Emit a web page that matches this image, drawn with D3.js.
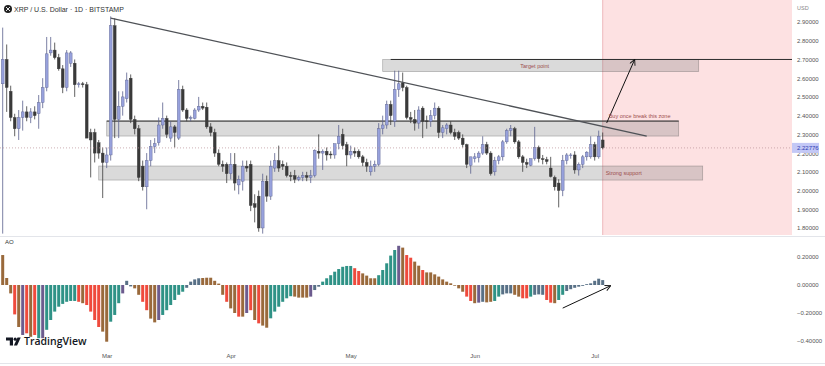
<!DOCTYPE html>
<html>
<head>
<meta charset="utf-8">
<script src="https://cdn.jsdelivr.net/npm/d3@7"></script>
<style>
  body { margin: 0; background: #fff; }
  svg { display: block; font-family: "Liberation Sans", Arial, sans-serif; }
</style>
</head>
<body>
<div id="chart"></div>
<script>
/**
 * DATA  (XRP / USD daily, Bitstamp)
 * */
const days = d3.utcDay.range(new Date(Date.UTC(2025, 1, 3)), new Date(Date.UTC(2025, 6, 4)));

const open = [
  2.57,2.70,2.53,2.39,2.33,2.39,2.42,2.39,2.42,2.41,
  2.47,2.55,2.735,2.75,2.71,2.65,2.55,2.68,2.68,2.565,
  2.57,2.565,2.31,2.31,2.255,2.20,2.15,2.19,2.88,2.38,
  2.45,2.49,2.60,2.38,2.33,2.13,2.02,2.16,2.235,2.255,
  2.35,2.385,2.28,2.34,2.28,2.54,2.43,2.385,2.385,2.43,
  2.45,2.445,2.34,2.31,2.20,2.14,2.14,2.09,2.14,2.03,
  2.05,2.13,2.14,1.93,1.97,1.80,2.05,1.97,2.12,2.16,
  2.14,2.13,2.08,2.08,2.06,2.07,2.08,2.07,2.08,2.21,
  2.20,2.21,2.195,2.19,2.25,2.30,2.245,2.19,2.21,2.21,
  2.18,2.15,2.10,2.13,2.14,2.33,2.35,2.46,2.37,2.54,
  2.575,2.55,2.39,2.38,2.36,2.44,2.372,2.37,2.40,2.44,
  2.31,2.33,2.35,2.31,2.31,2.28,2.245,2.135,2.17,2.175,
  2.20,2.245,2.20,2.10,2.16,2.18,2.26,2.32,2.33,2.26,
  2.18,2.15,2.135,2.17,2.23,2.17,2.165,2.12,2.07,2.04,
  2.00,2.16,2.188,2.19,2.11,2.14,2.18,2.18,2.245,2.18,
  2.27
];
const high = [
  2.87,2.78,2.56,2.41,2.43,2.48,2.45,2.44,2.45,2.51,
  2.60,2.82,2.82,2.79,2.73,2.67,2.75,2.745,2.70,2.58,
  2.58,2.58,2.33,2.33,2.27,2.23,2.23,2.93,2.92,2.53,
  2.53,2.63,2.62,2.40,2.35,2.16,2.20,2.27,2.28,2.39,
  2.47,2.40,2.37,2.35,2.59,2.56,2.44,2.40,2.44,2.50,
  2.47,2.47,2.36,2.33,2.22,2.16,2.15,2.20,2.20,2.08,
  2.16,2.16,2.16,1.98,2.00,2.09,2.08,2.16,2.20,2.24,
  2.16,2.15,2.10,2.11,2.08,2.10,2.10,2.11,2.22,2.30,
  2.22,2.23,2.21,2.25,2.35,2.33,2.26,2.24,2.23,2.22,
  2.19,2.17,2.16,2.16,2.36,2.40,2.48,2.48,2.64,2.64,
  2.63,2.56,2.42,2.43,2.45,2.45,2.40,2.43,2.47,2.45,
  2.35,2.36,2.37,2.33,2.32,2.30,2.25,2.18,2.20,2.21,
  2.29,2.26,2.21,2.18,2.19,2.27,2.33,2.35,2.34,2.27,
  2.19,2.17,2.17,2.34,2.24,2.19,2.18,2.18,2.08,2.06,
  2.19,2.20,2.20,2.21,2.15,2.19,2.21,2.29,2.26,2.32,
  2.31
];
const low = [
  1.77,2.42,2.37,2.29,2.27,2.32,2.37,2.36,2.38,2.33,
  2.44,2.53,2.72,2.70,2.64,2.52,2.53,2.66,2.50,2.55,
  2.55,2.28,2.07,2.15,2.17,1.96,2.12,2.16,2.28,2.28,
  2.40,2.47,2.36,2.30,2.05,2.00,1.90,2.13,2.20,2.24,
  2.33,2.28,2.26,2.23,2.27,2.42,2.37,2.37,2.38,2.42,
  2.43,2.33,2.29,2.18,2.13,2.10,2.04,2.06,2.00,1.98,
  2.00,2.10,1.89,1.83,1.78,1.77,1.94,1.95,2.10,2.10,
  2.11,2.07,2.05,2.04,2.05,2.05,2.05,2.04,2.07,2.17,
  2.11,2.16,2.17,2.17,2.22,2.22,2.13,2.17,2.18,2.17,
  2.13,2.10,2.08,2.10,2.13,2.30,2.33,2.35,2.34,2.50,
  2.53,2.38,2.36,2.32,2.33,2.28,2.33,2.34,2.38,2.28,
  2.28,2.30,2.30,2.27,2.27,2.23,2.12,2.09,2.15,2.15,
  2.19,2.19,2.08,2.08,2.14,2.16,2.25,2.29,2.25,2.17,
  2.10,2.12,2.13,2.16,2.15,2.14,2.14,2.07,2.00,1.91,
  1.97,2.14,2.17,2.09,2.08,2.12,2.16,2.17,2.16,2.17,
  2.22
];
const close = [
  2.70,2.55,2.39,2.33,2.39,2.42,2.39,2.42,2.40,2.47,
  2.55,2.73,2.75,2.71,2.65,2.55,2.735,2.735,2.565,2.57,
  2.565,2.28,2.27,2.20,2.20,2.15,2.19,2.88,2.38,2.45,
  2.50,2.59,2.38,2.33,2.07,2.02,2.16,2.235,2.25,2.35,
  2.385,2.30,2.34,2.31,2.54,2.43,2.385,2.39,2.43,2.45,
  2.44,2.34,2.31,2.20,2.14,2.13,2.09,2.14,2.04,2.06,
  2.13,2.12,1.92,1.91,1.80,2.05,1.97,2.13,2.16,2.12,
  2.13,2.08,2.075,2.06,2.07,2.08,2.07,2.08,2.215,2.20,
  2.21,2.19,2.19,2.25,2.29,2.24,2.19,2.21,2.20,2.18,
  2.15,2.13,2.13,2.14,2.33,2.35,2.46,2.40,2.54,2.57,
  2.55,2.39,2.38,2.36,2.43,2.37,2.368,2.40,2.44,2.31,
  2.335,2.35,2.31,2.29,2.28,2.245,2.14,2.18,2.18,2.20,
  2.245,2.20,2.09,2.16,2.18,2.26,2.32,2.33,2.26,2.18,
  2.15,2.14,2.17,2.23,2.17,2.165,2.155,2.075,2.02,2.00,
  2.16,2.19,2.19,2.11,2.14,2.18,2.205,2.245,2.18,2.29,
  2.228
];

// Awesome Oscillator histogram
const ao = [
  .214,.05,-.06,-.21,-.30,-.357,-.345,-.37,-.357,-.38,
  -.38,-.32,-.25,-.19,-.155,-.135,-.12,-.114,-.114,-.12,
  -.13,-.143,-.19,-.25,-.30,-.333,-.405,-.262,-.214,-.13,
  -.06,.03,-.01,-.024,-.07,-.12,-.18,-.24,-.267,-.25,
  -.214,-.18,-.143,-.107,-.07,-.048,-.02,.024,.04,.048,
  .05,.052,.052,.03,.01,-.07,-.12,-.167,-.2,-.226,
  -.226,-.2,-.18,-.25,-.274,-.29,-.305,-.238,-.19,-.155,
  -.12,-.095,-.08,-.083,-.09,-.09,-.09,-.083,-.036,-.012,
  .024,.048,.07,.095,.114,.13,.136,.136,.12,.1,
  .083,.067,.048,.048,.07,.107,.155,.21,.25,.28,
  .267,.214,.195,.167,.138,.107,.09,.09,.076,.06,
  .04,.024,.012,-.005,-.024,-.048,-.083,-.114,-.13,-.126,
  -.12,-.124,-.12,-.114,-.083,-.067,-.06,-.06,-.07,-.083,
  -.095,-.095,-.083,-.07,-.067,-.07,-.107,-.126,-.13,-.107,
  -.07,-.043,-.03,-.02,-.012,-.006,.006,.012,.03,.045,
  .035
];
// bar shade as seen in the picture: t teal, r red, b brown, p purple, g slate
const aoShade = (
  "bbbrbprbrt" + "pttttttttr" + "brrrrbbttt" + "pggbbrrbbp" +
  "ttttttgggg" + "bbbbbbrbbr" + "bprbrbbttt" + "tttbbbbpgg" +
  "ttttttttrr" + "bbbbtttttp" + "brrbbrbbbb" + "bbbbbbrrbp" +
  "gbbttgggbb" + "rrtgggrrbt" + "tggggggggg" + "g"
).split("");

// price scales and ticks
const priceTicks = [2.9, 2.8, 2.7, 2.6, 2.5, 2.4, 2.3, 2.2, 2.1, 2.0, 1.9, 1.8];
const aoTicks = [0.2, 0, -0.2, -0.4];
const monthTicks = [
  new Date(Date.UTC(2025, 2, 1)), new Date(Date.UTC(2025, 3, 1)),
  new Date(Date.UTC(2025, 4, 1)), new Date(Date.UTC(2025, 5, 1)),
  new Date(Date.UTC(2025, 6, 1))
];
const lastPrice = 2.22776;

// drawing annotations
const zoneLabels = ["", "Strong support", "Target point"];
const zoneStart = ["2025-03-01", "2025-02-27", "2025-05-09"];
const zoneEnd = ["2025-07-22", "2025-07-28", "2025-07-27"];
const zoneTop = [2.371, 2.131, 2.70];
const zoneBottom = [2.291, 2.056, 2.635];
const trendDates = ["2025-03-02", "2025-07-14"];
const trendPrices = [2.921, 2.291];
const arrowDates = ["2025-07-04", "2025-07-11"];
const arrowPrices = [2.361, 2.70];
const aoArrowDates = ["2025-06-23", "2025-07-05"];
const aoArrowValues = [-0.165, -0.005];
const sellZoneStart = "2025-07-03";

const day = (s) => new Date(s + "T00:00:00Z");

let width = 825,
  height = 366,
  plotRight = 792;

// SCALES
const xScale = d3
  .scaleUtc()
  .domain([new Date(Date.UTC(2025, 1, 3)), new Date(Date.UTC(2025, 6, 1))])
  .range([2.7, 594.7]);

const yScale = d3.scaleLinear().domain([1.8, 2.9]).range([228, 22]);
const aoScale = d3.scaleLinear().domain([-0.4, 0.2]).range([341, 257]);

const svg = d3
  .select("#chart")
  .append("svg")
  .attr("width", width)
  .attr("height", height);

svg.append("rect").attr("width", width).attr("height", height).attr("fill", "#fff");

const defs = svg.append("defs");
defs.append("clipPath").attr("id", "clipPrice")
  .append("rect").attr("x", 0).attr("y", 0).attr("width", plotRight).attr("height", 235);
defs.append("clipPath").attr("id", "clipAO")
  .append("rect").attr("x", 0).attr("y", 237).attr("width", plotRight).attr("height", 112);
defs.append("marker")
  .attr("id", "head")
  .attr("viewBox", "0 0 10 10")
  .attr("refX", 9).attr("refY", 5)
  .attr("markerWidth", 7).attr("markerHeight", 7)
  .attr("orient", "auto")
  .append("path")
  .attr("d", "M1,1 L9,5 L1,9")
  .attr("fill", "none")
  .attr("stroke", "#111")
  .attr("stroke-width", 1.3);

const pricePane = svg.append("g").attr("clip-path", "url(#clipPrice)");
const aoPane = svg.append("g").attr("clip-path", "url(#clipAO)");

// pink zone on the right
pricePane
  .append("rect")
  .attr("x", xScale(day(sellZoneStart)))
  .attr("y", 0)
  .attr("width", plotRight - xScale(day(sellZoneStart)))
  .attr("height", 237)
  .attr("fill", "#fde1e2");
pricePane
  .append("line")
  .attr("x1", xScale(day(sellZoneStart)))
  .attr("x2", xScale(day(sellZoneStart)))
  .attr("y1", 0).attr("y2", 235)
  .attr("stroke", "#e9a9ad")
  .attr("stroke-width", 0.8);

// boxes
const zones = zoneStart.map((s, i) => ({
  x0: day(s), x1: day(zoneEnd[i]), top: zoneTop[i], bottom: zoneBottom[i], label: zoneLabels[i]
}));

pricePane
  .selectAll(".zone")
  .data(zones)
  .join("rect")
  .attr("class", "zone")
  .attr("x", (d) => xScale(d.x0))
  .attr("y", (d) => yScale(d.top))
  .attr("width", (d) => xScale(d.x1) - xScale(d.x0))
  .attr("height", (d) => yScale(d.bottom) - yScale(d.top))
  .attr("fill", "rgba(120,120,120,0.27)")
  .attr("stroke", "rgba(90,90,90,0.45)")
  .attr("stroke-width", 0.7);

// dark top edge of resistance zone
pricePane
  .append("line")
  .attr("x1", xScale(zones[0].x0))
  .attr("x2", xScale(zones[0].x1))
  .attr("y1", yScale(zones[0].top))
  .attr("y2", yScale(zones[0].top))
  .attr("stroke", "#2b2b2b")
  .attr("stroke-width", 1);

// target level ray
pricePane
  .append("line")
  .attr("x1", xScale(day("2025-05-11")))
  .attr("x2", plotRight)
  .attr("y1", yScale(zones[2].top))
  .attr("y2", yScale(zones[2].top))
  .attr("stroke", "#2b2b2b")
  .attr("stroke-width", 1);

// last price dotted line
svg
  .append("line")
  .attr("x1", 0)
  .attr("x2", plotRight)
  .attr("y1", yScale(lastPrice))
  .attr("y2", yScale(lastPrice))
  .attr("stroke", "#b88f95")
  .attr("stroke-width", 0.7)
  .style("stroke-dasharray", "1, 2");

// CANDLES
const candles = days.map((d, i) => ({
  date: d, o: open[i], h: high[i], l: low[i], c: close[i]
}));
const upFill = "#97a1dc",
  upLine = "#59608c",
  downFill = "#3a3a3a";

pricePane
  .selectAll(".wick")
  .data(candles)
  .join("line")
  .attr("class", "wick")
  .attr("x1", (d) => xScale(d.date))
  .attr("x2", (d) => xScale(d.date))
  .attr("y1", (d) => yScale(d.h))
  .attr("y2", (d) => yScale(d.l))
  .attr("stroke", (d) => (d.c >= d.o ? upLine : downFill))
  .attr("stroke-width", 0.8);

pricePane
  .selectAll(".body")
  .data(candles)
  .join("rect")
  .attr("class", "body")
  .attr("x", (d) => xScale(d.date) - 1.4)
  .attr("width", 2.8)
  .attr("y", (d) => yScale(Math.max(d.o, d.c)))
  .attr("height", (d) => Math.max(0.8, Math.abs(yScale(d.o) - yScale(d.c))))
  .attr("fill", (d) => (d.c >= d.o ? upFill : downFill))
  .attr("stroke", (d) => (d.c >= d.o ? upLine : downFill))
  .attr("stroke-width", 0.4);

// trend line
pricePane
  .append("line")
  .attr("x1", xScale(day(trendDates[0])))
  .attr("y1", yScale(trendPrices[0]))
  .attr("x2", xScale(day(trendDates[1])))
  .attr("y2", yScale(trendPrices[1]))
  .attr("stroke", "#4f5257")
  .attr("stroke-width", 1.3);

// breakout arrow
pricePane
  .append("line")
  .attr("x1", xScale(day(arrowDates[0])))
  .attr("y1", yScale(arrowPrices[0]))
  .attr("x2", xScale(day(arrowDates[1])))
  .attr("y2", yScale(arrowPrices[1]))
  .attr("stroke", "#111")
  .attr("stroke-width", 1)
  .attr("marker-end", "url(#head)");

// annotation texts
const noteColor = "#9b4f4f";
pricePane
  .append("text")
  .attr("x", (xScale(zones[2].x0) + xScale(zones[2].x1)) / 2 - 6)
  .attr("y", (yScale(zones[2].top) + yScale(zones[2].bottom)) / 2 + 2)
  .attr("text-anchor", "middle")
  .attr("font-size", "5.5px")
  .attr("fill", noteColor)
  .text(zones[2].label);
pricePane
  .append("text")
  .attr("x", xScale(day(sellZoneStart)) + 3)
  .attr("y", (yScale(zones[1].top) + yScale(zones[1].bottom)) / 2 + 2)
  .attr("font-size", "5.5px")
  .attr("fill", noteColor)
  .text(zones[1].label);
pricePane
  .append("text")
  .attr("x", xScale(day(sellZoneStart)) + 6)
  .attr("y", yScale(2.398) + 2)
  .attr("font-size", "5.5px")
  .attr("fill", noteColor)
  .text("Buy once break this zone");

// AO HISTOGRAM
const shadeColor = { t: "#2f9286", r: "#ef4a3c", b: "#99693b", p: "#6c5b8e", g: "#587086" };
aoPane
  .selectAll(".aobar")
  .data(ao.map((v, i) => ({ date: days[i], v: v, s: aoShade[i] })))
  .join("rect")
  .attr("class", "aobar")
  .attr("x", (d) => xScale(d.date) - 1.5)
  .attr("width", 3)
  .attr("y", (d) => Math.min(aoScale(d.v), aoScale(0)))
  .attr("height", (d) => Math.max(0.6, Math.abs(aoScale(d.v) - aoScale(0))))
  .attr("fill", (d) => shadeColor[d.s] || shadeColor.g);

aoPane
  .append("line")
  .attr("x1", xScale(day(aoArrowDates[0])))
  .attr("y1", aoScale(aoArrowValues[0]))
  .attr("x2", xScale(day(aoArrowDates[1])))
  .attr("y2", aoScale(aoArrowValues[1]))
  .attr("stroke", "#111")
  .attr("stroke-width", 1)
  .attr("marker-end", "url(#head)");

// pane separators
svg.append("line").attr("x1", 0).attr("x2", width).attr("y1", 236.5).attr("y2", 236.5)
  .attr("stroke", "#e3e5ea").attr("stroke-width", 1);
svg.append("line").attr("x1", 0).attr("x2", width).attr("y1", 363.5).attr("y2", 363.5)
  .attr("stroke", "#e3e5ea").attr("stroke-width", 1);

// AXES
const fmt = d3.format(".5f");
const yAxis = d3.axisRight(yScale).tickValues(priceTicks).tickFormat(fmt).tickSize(0).tickPadding(0);
const aoAxis = d3.axisRight(aoScale).tickValues(aoTicks).tickFormat(fmt).tickSize(0).tickPadding(0);
const xAxis = d3.axisBottom(xScale).tickValues(monthTicks).tickFormat(d3.utcFormat("%b")).tickSize(0).tickPadding(0);

[
  svg.append("g").attr("transform", "translate(797,0)").call(yAxis),
  svg.append("g").attr("transform", "translate(797,0)").call(aoAxis),
  svg.append("g").attr("transform", "translate(0,354)").call(xAxis),
].forEach((g) => {
  g.select(".domain").remove();
  g.selectAll("text").attr("font-size", "6px").attr("fill", "#555").attr("font-family", null);
});

svg.append("text").attr("x", 797).attr("y", 10).attr("font-size", "5.5px").attr("fill", "#888").text("USD");

// last price label
svg.append("rect")
  .attr("x", 792).attr("y", yScale(lastPrice) - 5)
  .attr("width", 27).attr("height", 10)
  .attr("fill", "#c3c8f6");
svg.append("text")
  .attr("x", 797).attr("y", yScale(lastPrice) + 2)
  .attr("font-size", "6px").attr("fill", "#2f3db5")
  .text(fmt(lastPrice));

// title
svg.append("circle").attr("cx", 8).attr("cy", 9).attr("r", 4).attr("fill", "#222");
svg.append("path")
  .attr("d", "M6,7 L10,11 M10,7 L6,11")
  .attr("stroke", "#fff").attr("stroke-width", 0.9);
svg.append("text")
  .attr("x", 14).attr("y", 11.5)
  .attr("font-size", "7px").attr("fill", "#333")
  .text("XRP / U.S. Dollar · 1D · BITSTAMP");

svg.append("text").attr("x", 5).attr("y", 244).attr("font-size", "6px").attr("fill", "#333").text("AO");

// TradingView mark
const logo = svg.append("g").attr("fill", "#131722");
logo.append("path").attr("d", "M6,337.5 h7 v8 h-3.2 v-5 h-3.8z");
logo.append("circle").attr("cx", 15.2).attr("cy", 339.2).attr("r", 1.6);
logo.append("path").attr("d", "M17.5,337.5 h3.2 l-3.6,8 h-3.2z");
logo.append("text")
  .attr("x", 24).attr("y", 345)
  .attr("font-size", "10.5px").attr("font-weight", "600")
  .attr("font-family", "'Open Sans', 'Liberation Sans', Arial, sans-serif")
  .text("TradingView");
</script>
</body>
</html>
